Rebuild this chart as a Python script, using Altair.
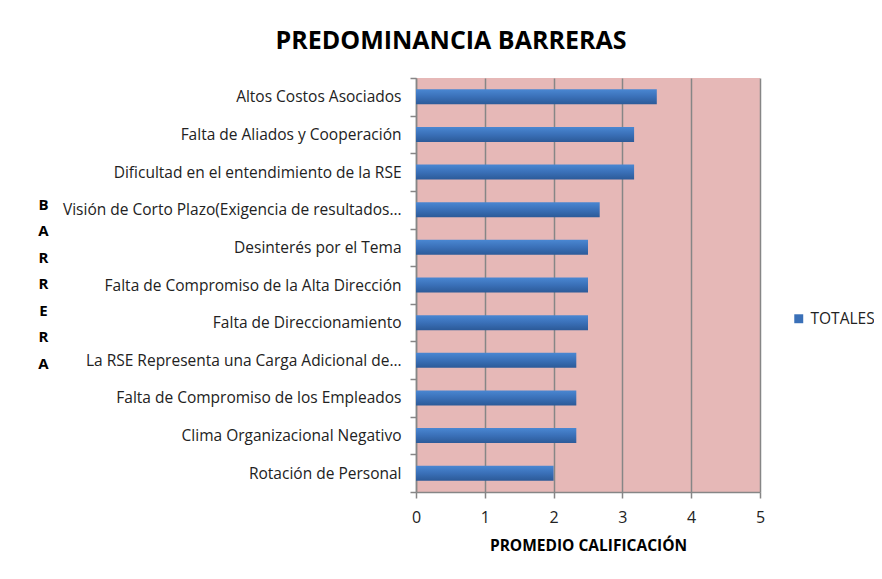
import altair as alt
import pandas as pd

categorias = [
    "Altos Costos Asociados",
    "Falta de Aliados y Cooperación",
    "Dificultad en el entendimiento de la RSE",
    "Visión de Corto Plazo(Exigencia de resultados…",
    "Desinterés por el Tema",
    "Falta de Compromiso de la Alta Dirección",
    "Falta de Direccionamiento",
    "La RSE Representa una Carga Adicional de…",
    "Falta de Compromiso de los Empleados",
    "Clima Organizacional Negativo",
    "Rotación de Personal",
]
totales = [3.5, 3.17, 3.17, 2.67, 2.5, 2.5, 2.5, 2.33, 2.33, 2.33, 2.0]
serie = ["TOTALES"] * len(categorias)

df = pd.DataFrame({"barrera": categorias, "promedio": totales, "serie": serie})

FONT = "Open Sans"

x_enc = alt.X(
    "promedio:Q",
    scale=alt.Scale(domain=[0, 5], nice=False),
    axis=alt.Axis(
        values=[0, 1, 2, 3, 4, 5],
        format="d",
        labelFlush=False,
        title="PROMEDIO CALIFICACIÓN",
        titleFont=FONT,
        titleFontSize=15.5,
        titleFontWeight="bold",
        titleColor="#000000",
        titlePadding=13,
        labelFont=FONT,
        labelFontSize=16,
        labelColor="#222222",
        labelPadding=11,
        tickSize=6,
        tickColor="#868686",
        tickWidth=1.5,
        domainColor="#868686",
        domainWidth=1.5,
        grid=True,
        gridColor="#868686",
        gridWidth=1.5,
    ),
)

y_enc = alt.Y(
    "barrera:N",
    sort=categorias,
    scale=alt.Scale(paddingInner=0, paddingOuter=0),
    axis=alt.Axis(
        title=["B", "A", "R", "R", "E", "R", "A"],
        titleAngle=0,
        titleX=-373,
        titleY=119,
        titleAlign="center",
        titleBaseline="top",
        titleLineHeight=26.5,
        titleFont=FONT,
        titleFontSize=15,
        titleFontWeight="bold",
        titleColor="#000000",
        labelFont=FONT,
        labelFontSize=15.5,
        labelColor="#222222",
        labelPadding=9,
        labelLimit=400,
        tickBand="extent",
        tickSize=6,
        tickColor="#868686",
        tickWidth=1.5,
        domainColor="#868686",
        domainWidth=1.5,
        grid=False,
    ),
)

bars = alt.Chart(df).mark_bar(
    size=15,
    color=alt.LinearGradient(
        gradient="linear",
        stops=[
            alt.GradientStop(color="#4A87D2", offset=0),
            alt.GradientStop(color="#3A70B8", offset=0.5),
            alt.GradientStop(color="#2C5A98", offset=1),
        ],
        x1=0, x2=0, y1=0, y2=1,
    ),
).encode(x=x_enc, y=y_enc)

legend_layer = alt.Chart(df).mark_point(opacity=0, filled=True).encode(
    x=alt.X("promedio:Q"),
    y=alt.Y("barrera:N", sort=categorias),
    fill=alt.Fill(
        "serie:N",
        scale=alt.Scale(domain=["TOTALES"], range=["#3A70B8"]),
        legend=alt.Legend(
            title=None,
            orient="none",
            legendX=375,
            legendY=233,
            symbolType="square",
            symbolSize=80,
            symbolOpacity=1,
            symbolStrokeWidth=0,
            labelFont=FONT,
            labelFontSize=15.5,
            labelColor="#222222",
        ),
    ),
)

chart = alt.layer(bars, legend_layer).properties(
    width=344,
    height=414,
    autosize=alt.AutoSizeParams(type="none"),
    padding={"left": 408, "top": 70, "right": 114, "bottom": 79},
    background="white",
    title=alt.TitleParams(
        "PREDOMINANCIA BARRERAS",
        font=FONT,
        fontSize=25,
        fontWeight="bold",
        color="#000000",
        anchor="middle",
        dx=-137,
        offset=17,
    ),
).configure_view(
    fill="#E6B8B7",
    stroke=None,
)

chart.save("out.html", embed_options={"renderer": "svg", "actions": False})
